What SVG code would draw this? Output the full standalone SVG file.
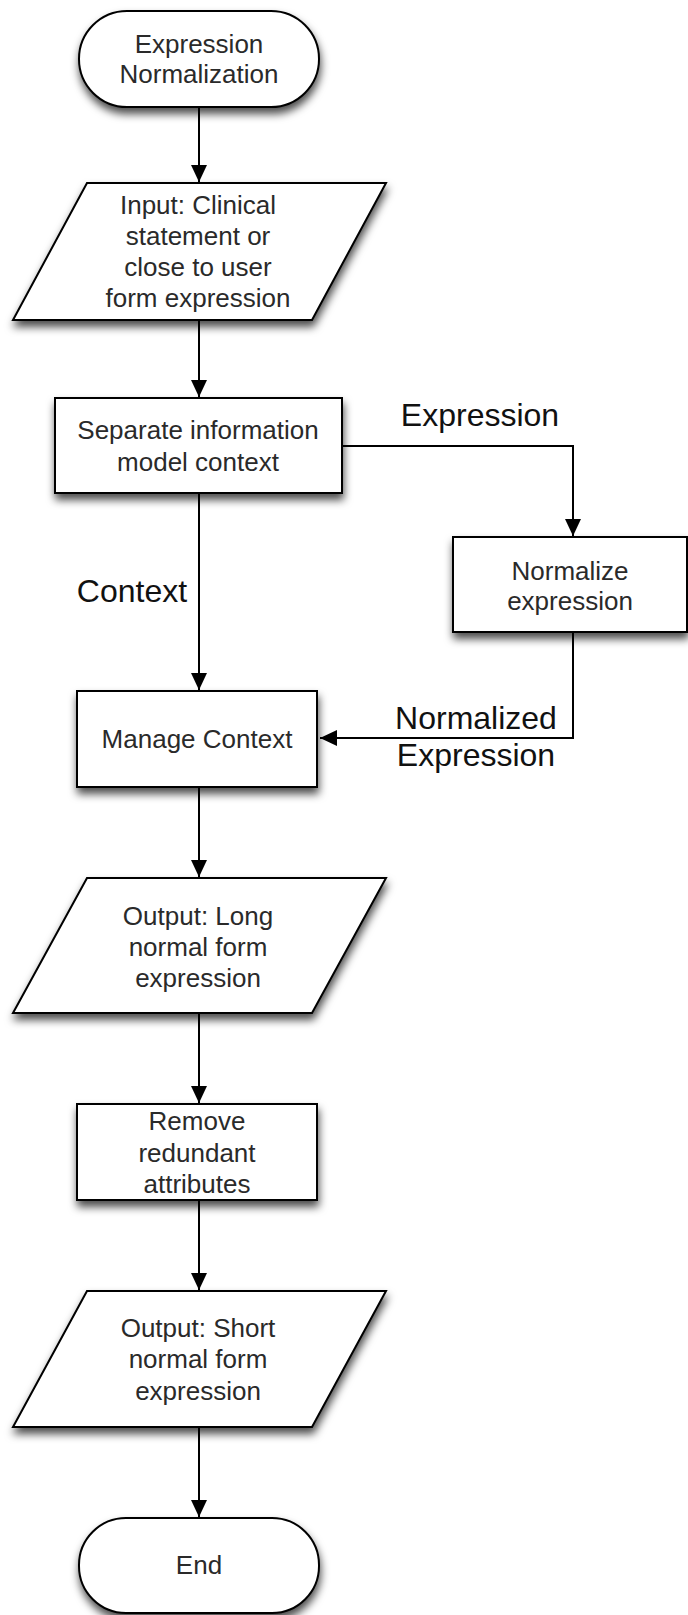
<svg xmlns="http://www.w3.org/2000/svg" width="688" height="1615" viewBox="0 0 688 1615">
<defs>
<filter id="sh" x="-20%" y="-20%" width="140%" height="160%">
<feDropShadow dx="1" dy="6" stdDeviation="4" flood-color="#000" flood-opacity="0.7"/>
</filter>
<marker id="ah" markerUnits="userSpaceOnUse" markerWidth="17" markerHeight="16" refX="17" refY="8" orient="auto">
<path d="M0,0 L17,8 L0,16 z" fill="#000"/>
</marker>
</defs>
<style>
.n{fill:#fff;stroke:#000;stroke-width:2;filter:url(#sh)}
.t{font-family:"Liberation Sans",Arial,sans-serif;font-size:26px;fill:#2a2a2a;text-anchor:middle}
.l{font-family:"Liberation Sans",Arial,sans-serif;font-size:32px;fill:#111;text-anchor:middle}
.c{fill:none;stroke:#000;stroke-width:2;marker-end:url(#ah)}
</style>
<rect width="688" height="1615" fill="#fff"/>
<g id="connectors">
<path class="c" d="M199,107 V182"/>
<path class="c" d="M199,320 V397"/>
<path class="c" d="M342,446 H573 V536"/>
<path class="c" d="M199,493 V690"/>
<path class="c" d="M573,632 V738 H320"/>
<path class="c" d="M199,787 V877"/>
<path class="c" d="M199,1013 V1103"/>
<path class="c" d="M199,1200 V1290"/>
<path class="c" d="M199,1427 V1517"/>
<text class="l" x="480" y="426">Expression</text>
<text class="l" x="132" y="602">Context</text>
<text class="l" x="476" y="729">Normalized</text>
<text class="l" x="476" y="766">Expression</text>
</g>
<g id="start">
<rect class="n" x="79" y="11" width="240" height="96" rx="48" ry="48"/>
<text class="t" x="199" y="53">Expression</text>
<text class="t" x="199" y="83">Normalization</text>
</g>
<g id="input">
<polygon class="n" points="87,183 386,183 312,320 13,320"/>
<text class="t" x="198" y="214">Input: Clinical</text>
<text class="t" x="198" y="245">statement or</text>
<text class="t" x="198" y="276">close to user</text>
<text class="t" x="198" y="307">form expression</text>
</g>
<g id="separate">
<rect class="n" x="55" y="398" width="287" height="95"/>
<text class="t" x="198" y="439">Separate information</text>
<text class="t" x="198" y="471">model context</text>
</g>
<g id="normalize">
<rect class="n" x="453" y="537" width="234" height="95"/>
<text class="t" x="570" y="580">Normalize</text>
<text class="t" x="570" y="610">expression</text>
</g>
<g id="manage">
<rect class="n" x="77" y="691" width="240" height="96"/>
<text class="t" x="197" y="748">Manage Context</text>
</g>
<g id="outlong">
<polygon class="n" points="87,878 386,878 312,1013 13,1013"/>
<text class="t" x="198" y="925">Output: Long</text>
<text class="t" x="198" y="956">normal form</text>
<text class="t" x="198" y="987">expression</text>
</g>
<g id="remove">
<rect class="n" x="77" y="1104" width="240" height="96"/>
<text class="t" x="197" y="1130">Remove</text>
<text class="t" x="197" y="1162">redundant</text>
<text class="t" x="197" y="1193">attributes</text>
</g>
<g id="outshort">
<polygon class="n" points="87,1291 386,1291 312,1427 13,1427"/>
<text class="t" x="198" y="1337">Output: Short</text>
<text class="t" x="198" y="1368">normal form</text>
<text class="t" x="198" y="1400">expression</text>
</g>
<g id="end">
<rect class="n" x="79" y="1518" width="240" height="95" rx="47" ry="47"/>
<text class="t" x="199" y="1574">End</text>
</g>
</svg>
